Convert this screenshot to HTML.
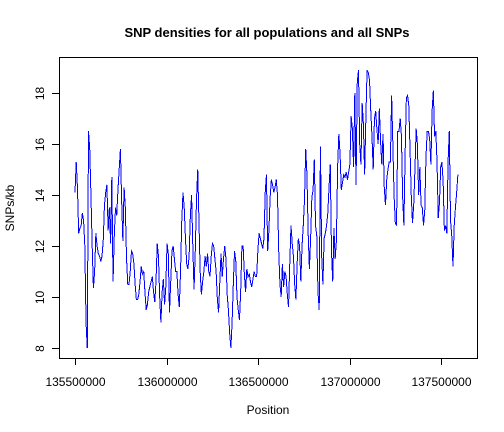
<!DOCTYPE html>
<html><head><meta charset="utf-8"><style>
html,body{margin:0;padding:0;background:#fff;}
svg{display:block;font-family:"Liberation Sans",Arial,sans-serif;}
</style></head><body>
<svg id="chart" width="504" height="432" viewBox="0 0 504 432" xmlns="http://www.w3.org/2000/svg">
<rect width="504" height="432" fill="#fff"/>
<text x="267" y="37" text-anchor="middle" font-size="13" font-weight="bold">SNP densities for all populations and all SNPs</text>
<text x="268" y="414" text-anchor="middle" font-size="12">Position</text>
<text transform="translate(14,208) rotate(-90)" text-anchor="middle" font-size="12">SNPs/kb</text>
<rect x="59.5" y="57.5" width="418" height="301" fill="none" stroke="#000"/>
<g id="axes"></g>
<polyline id="series" fill="none" stroke="#0000ff" stroke-width="1" shape-rendering="crispEdges"/>
</svg>
<script>
const xTicks = [135500000, 136000000, 136500000, 137000000, 137500000];
const yTicks = [8, 10, 12, 14, 16, 18];
const startPos = 135500000;
const endPos = 137590000;
const densities = [14.1,15.3,14.3,12.5,12.7,12.8,13.3,13.0,12.0,9.0,8.0,16.5,15.8,14.0,12.0,10.35,11.0,12.5,12.0,11.7,11.6,11.4,11.6,12.2,13.6,14.1,14.4,12.6,13.5,12.1,14.7,10.6,12.4,13.5,13.2,14.2,15.0,15.8,13.8,12.2,14.3,13.5,11.5,10.5,10.5,11.0,11.8,11.7,11.3,10.5,9.9,9.9,10.1,10.6,11.2,10.9,11.0,10.2,9.5,9.7,10.2,10.4,10.6,10.8,10.2,9.8,10.6,12.1,11.6,10.0,9.0,10.2,10.7,9.7,10.4,12.1,11.7,9.4,10.6,11.8,12.0,11.5,11.0,11.0,10.1,9.6,11.0,13.0,14.1,13.5,12.3,11.3,11.1,11.6,13.2,14.0,12.0,10.3,11.8,13.8,15.0,13.0,11.0,10.1,10.6,11.0,11.6,11.2,11.7,11.0,10.8,11.6,12.1,12.0,11.5,11.0,9.9,9.4,10.6,11.7,10.8,11.5,12.0,11.5,10.1,9.5,8.6,8.0,9.0,10.5,11.8,11.4,10.0,9.5,9.1,10.2,12.0,12.0,10.9,10.2,11.1,10.8,10.9,10.6,10.4,10.7,11.0,10.8,10.8,11.8,12.5,12.3,12.1,11.9,12.3,14.1,14.8,11.8,12.6,13.9,14.6,14.4,14.1,14.3,14.6,14.0,11.8,10.5,10.0,11.3,10.4,11.0,10.8,10.1,9.6,11.3,12.8,12.1,11.6,10.5,9.9,11.3,12.3,12.0,10.6,12.0,12.8,13.8,15.8,14.8,12.5,11.1,12.3,13.9,14.2,15.4,12.8,12.4,10.2,9.5,15.9,11.6,10.5,12.3,12.5,12.8,13.3,14.3,15.2,11.8,10.6,12.7,11.5,12.2,15.1,16.4,15.6,14.2,14.5,14.8,14.7,14.9,14.6,14.9,15.2,17.1,16.6,15.1,18.0,14.4,18.4,18.9,16.0,15.2,17.6,16.8,14.8,17.0,18.9,18.8,18.5,17.3,16.3,15.0,17.0,17.3,16.6,16.0,17.4,16.1,15.2,16.4,14.3,13.6,14.6,15.0,15.3,15.3,17.9,16.0,14.0,12.9,12.8,16.5,16.5,17.0,16.3,13.9,12.8,15.6,17.8,17.9,17.5,15.8,14.0,12.9,13.6,15.0,16.6,16.0,14.0,15.1,13.6,13.5,12.8,13.4,15.5,16.5,16.5,16.2,15.2,17.3,18.1,16.3,16.5,15.3,13.1,13.7,15.1,15.3,14.5,12.6,12.8,12.5,15.3,16.5,13.0,12.4,11.2,12.8,13.5,14.1,14.8];

const NS = "http://www.w3.org/2000/svg";
function xScale(v){ return 75 + (v - 135500000) * (366.4 / 2000000); }
function yScale(v){ return 348 - (v - 8) * 25.5; }

const axes = document.getElementById('axes');
function mk(tag, attrs, text){
  const e = document.createElementNS(NS, tag);
  for (const k in attrs) e.setAttribute(k, attrs[k]);
  if (text !== undefined) e.textContent = text;
  axes.appendChild(e);
  return e;
}
const xl = mk('line', {x1: xScale(xTicks[0]), x2: xScale(xTicks[xTicks.length-1]), y1: 358.5, y2: 358.5, stroke: '#000'});


xTicks.forEach(t => {
  const x = Math.round(xScale(t)) + 0.5;
  const tk = mk('line', {x1: x, x2: x, y1: 358, y2: 365, stroke: '#000'});
  
  
  const lb = mk('text', {x: x, y: 386, 'text-anchor': 'middle', 'font-size': 12}, String(t));
  
  
});
const yl = mk('line', {x1: 59.5, x2: 59.5, y1: yScale(yTicks[0]), y2: yScale(yTicks[yTicks.length-1]), stroke: '#000'});


yTicks.forEach(t => {
  const y = Math.round(yScale(t)) + 0.5;
  const tk = mk('line', {x1: 52, x2: 59.5, y1: y, y2: y, stroke: '#000'});
  
  
  const lb = mk('text', {transform: 'translate(44,' + y + ') rotate(-90)', 'text-anchor': 'middle', 'font-size': 12}, String(t));
  
  
});
const n = densities.length;
const step = (endPos - startPos) / (n - 1);
const pts = densities.map((v, i) => xScale(startPos + i * step).toFixed(2) + ',' + yScale(v).toFixed(2));
document.getElementById('series').setAttribute('points', pts.join(' '));
</script>
</body></html>
